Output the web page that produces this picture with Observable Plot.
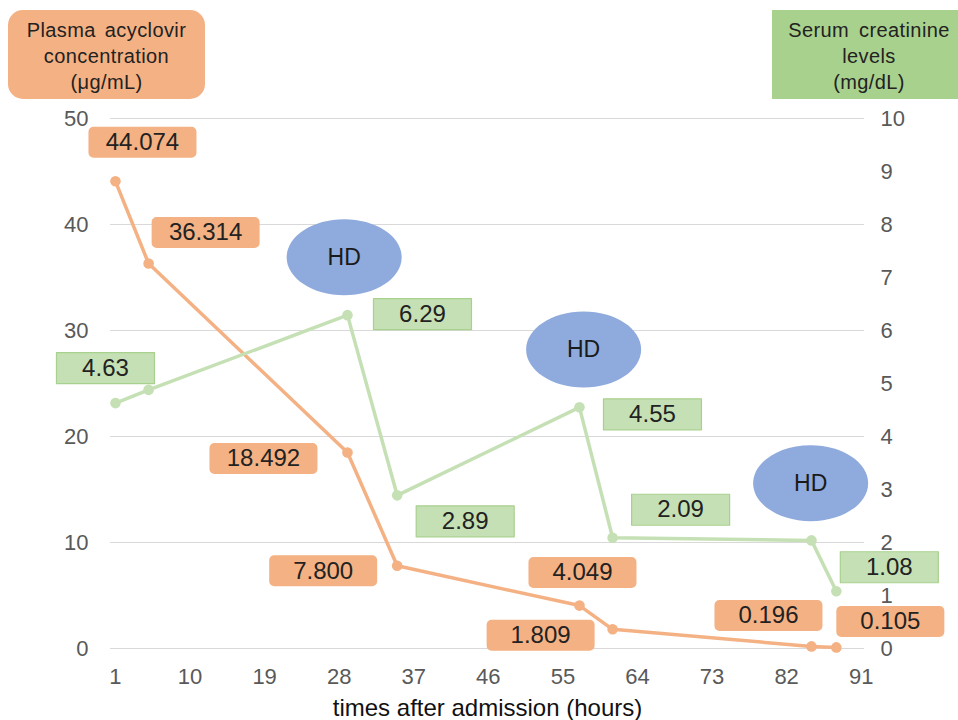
<!DOCTYPE html>
<html>
<head>
<meta charset="utf-8">
<script src="https://cdn.jsdelivr.net/npm/d3@7"></script>
<script src="https://cdn.jsdelivr.net/npm/@observablehq/plot@0.6"></script>
<style>
  html, body { margin: 0; padding: 0; background: #fff; }
  #wrap { position: relative; width: 958px; height: 720px; overflow: hidden; font-family: "Liberation Sans", Arial, sans-serif; }
  .ttl { position: absolute; top: 10px; height: 89px; box-sizing: border-box; padding-top: 7px;
         font-size: 20px; line-height: 26px; color: #222; text-align: center; letter-spacing: 0.4px; }
  #tl { left: 8px; width: 197px; background: #F4B183; border-radius: 15px; word-spacing: 3px; }
  #tr { left: 772px; width: 194px; background: #A9D18E; word-spacing: 4px; }
</style>
</head>
<body>
<div id="wrap">
  <div id="chart"></div>
  <div class="ttl" id="tl">Plasma acyclovir<br>concentration<br>(μg/mL)</div>
  <div class="ttl" id="tr">Serum creatinine<br>levels<br>(mg/dL)</div>
</div>
<script>
// ---- data ----
const hours = [1, 5, 29, 35, 57, 61, 85, 88];
const acyclovir = [44.074, 36.314, 18.492, 7.800, 4.049, 1.809, 0.196, 0.105];
const creatinine = [4.63, 4.88, 6.29, 2.89, 4.55, 2.09, 2.04, 1.08];
const acyLabels = ["44.074", "36.314", "18.492", "7.800", "4.049", "1.809", "0.196", "0.105"];
const creLabels = ["4.63", null, "6.29", "2.89", "4.55", "2.09", null, "1.08"];
const hdHours = [28.6, 57.5, 84.9];
const hdLevel = [36.9, 28.2, 15.6];   // in left-axis units
const xTicks = [1, 10, 19, 28, 37, 46, 55, 64, 73, 82, 91];
const leftTicks = [0, 10, 20, 30, 40, 50];
const rightTicks = [0, 1, 2, 3, 4, 5, 6, 7, 8, 9, 10];

// ---- label placement (pixel offsets from point) ----
const acyOffsets = [[27,-39],[57,-31],[-84,6],[-74,5],[3,-33],[-72,6],[-43,-31],[54,-26]];
const creOffsets = [[-10,-35],null,[75,-1],[68,26],[73,7],[68,-28],null,[53,-24]];

const RATIO = 5; // right axis (0-10) mapped onto left axis (0-50)
const acy = hours.map((h, i) => ({h, v: acyclovir[i], label: acyLabels[i], off: acyOffsets[i]}));
const cre = hours.map((h, i) => ({h, v: creatinine[i] * RATIO, label: creLabels[i], off: creOffsets[i]}));
const hd = hdHours.map((h, i) => ({h, v: hdLevel[i]}));

const ORANGE = "#F4B183", GREEN_LINE = "#C5E0B4", GREEN_FILL = "#C5E0B4", GREEN_EDGE = "#A9D18E", BLUE = "#8FAADC";
const FONT = "'Liberation Sans', Arial, sans-serif";

function roundRect(w, h, r) {
  return {draw(ctx) {
    const x0 = -w/2, y0 = -h/2, x1 = w/2, y1 = h/2;
    ctx.moveTo(x0 + r, y0);
    ctx.arcTo(x1, y0, x1, y1, r);
    ctx.arcTo(x1, y1, x0, y1, r);
    ctx.arcTo(x0, y1, x0, y0, r);
    ctx.arcTo(x0, y0, x1, y0, r);
    ctx.closePath();
  }};
}
function ellipse(rx, ry) {
  const k = 0.5523;
  return {draw(ctx) {
    ctx.moveTo(rx, 0);
    ctx.bezierCurveTo(rx, ry*k, rx*k, ry, 0, ry);
    ctx.bezierCurveTo(-rx*k, ry, -rx, ry*k, -rx, 0);
    ctx.bezierCurveTo(-rx, -ry*k, -rx*k, -ry, 0, -ry);
    ctx.bezierCurveTo(rx*k, -ry, rx, -ry*k, rx, 0);
    ctx.closePath();
  }};
}

const labelMarks = [];
for (const d of acy) {
  if (!d.label) continue;
  labelMarks.push(Plot.dot([d], {x: "h", y: "v", dx: d.off[0], dy: d.off[1], symbol: roundRect(108, 31, 5), fill: ORANGE, stroke: "none"}));
  labelMarks.push(Plot.text([d], {x: "h", y: "v", dx: d.off[0], dy: d.off[1], text: "label", fontSize: 24, fill: "#222", lineAnchor: "middle"}));
}
for (const d of cre) {
  if (!d.label) continue;
  labelMarks.push(Plot.dot([d], {x: "h", y: "v", dx: d.off[0], dy: d.off[1], symbol: roundRect(98, 31, 0.01), fill: GREEN_FILL, stroke: GREEN_EDGE, strokeWidth: 1.2}));
  labelMarks.push(Plot.text([d], {x: "h", y: "v", dx: d.off[0], dy: d.off[1], text: "label", fontSize: 24, fill: "#222", lineAnchor: "middle"}));
}

const chart = Plot.plot({
  width: 958,
  height: 720,
  marginTop: 118,
  marginBottom: 72,
  marginLeft: 110,
  marginRight: 94,
  style: {fontFamily: FONT, background: "transparent"},
  x: {domain: [0.4, 91.4], axis: null},
  y: {domain: [0, 50], axis: null},
  marks: [
    Plot.gridY(leftTicks, {stroke: "#d9d9d9", strokeOpacity: 1, strokeWidth: 1.2}),
    Plot.axisY(leftTicks, {anchor: "left", tickSize: 0, tickPadding: 22, fontSize: 22, fill: "#595959", label: null}),
    Plot.axisY(rightTicks.map(t => t * RATIO), {anchor: "right", tickSize: 0, tickPadding: 16, fontSize: 22, fill: "#595959", tickFormat: d => d / RATIO, label: null}),
    Plot.axisX(xTicks, {anchor: "bottom", tickSize: 0, tickPadding: 20, fontSize: 22, fill: "#595959", label: null}),
    Plot.text(["times after admission (hours)"], {frameAnchor: "bottom", dy: 60, fontSize: 24, fill: "#111", lineAnchor: "middle"}),
    Plot.line(acy, {x: "h", y: "v", stroke: ORANGE, strokeWidth: 3.5}),
    Plot.dot(acy, {x: "h", y: "v", r: 5.3, fill: ORANGE, stroke: "none"}),
    Plot.line(cre, {x: "h", y: "v", stroke: GREEN_LINE, strokeWidth: 3.5}),
    Plot.dot(cre, {x: "h", y: "v", r: 5.3, fill: GREEN_LINE, stroke: "none"}),
    Plot.dot(hd, {x: "h", y: "v", symbol: ellipse(57.5, 38), fill: BLUE, stroke: "none"}),
    Plot.text(hd, {x: "h", y: "v", text: () => "HD", fontSize: 23, fill: "#1a1a1a", lineAnchor: "middle"}),
    ...labelMarks
  ]
});
document.getElementById("chart").appendChild(chart);
</script>
</body>
</html>
